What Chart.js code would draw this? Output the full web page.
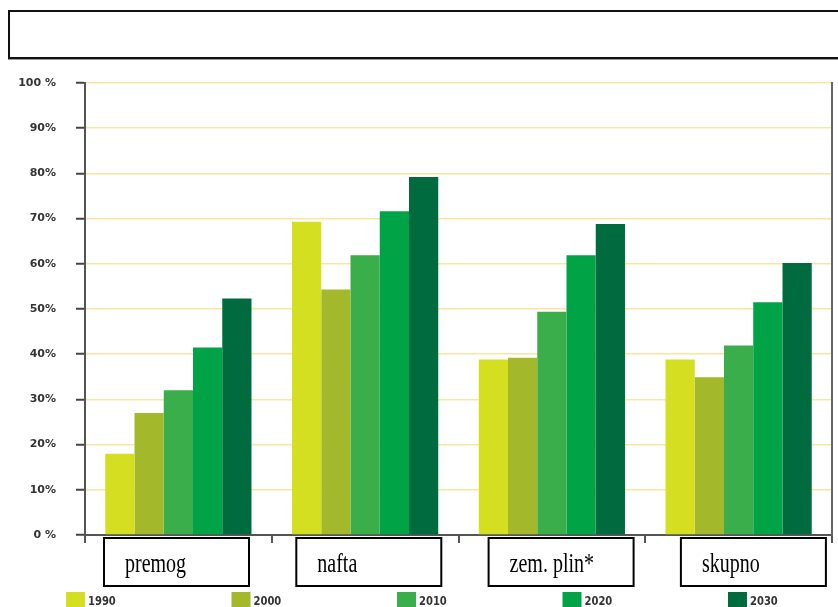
<!DOCTYPE html>
<html>
<head>
<meta charset="utf-8">
<script src="https://cdn.jsdelivr.net/npm/chart.js@4"></script>
<style>
  body { margin: 0; background: #fff; }
  #wrap { position: relative; width: 838px; height: 607px; overflow: hidden; }
  #topBox {
    position: absolute; left: 8px; top: 10px; width: 840px; height: 45px;
    border: 2px solid #111; box-shadow: 0 1px 0 #999;
  }
</style>
</head>
<body>
<div id="wrap">
  <canvas id="chart" width="838" height="607"></canvas>
  <div id="topBox"></div>
</div>
<script>
// Data
const categories = ['premog', 'nafta', 'zem. plin*', 'skupno'];
const years = ['1990', '2000', '2010', '2020', '2030'];
const v1990 = [18, 69.3, 38.8, 38.8];
const v2000 = [27, 54.3, 39.2, 34.9];
const v2010 = [32, 61.9, 49.4, 41.9];
const v2020 = [41.5, 71.6, 61.9, 51.5];
const v2030 = [52.3, 79.2, 68.8, 60.2];
const yTickLabels = ['0 %', '10%', '20%', '30%', '40%', '50%', '60%', '70%', '80%', '90%', '100 %'];

const colors = ['#d5df22', '#a3b92b', '#3aae4a', '#00a346', '#006b3f'];
const series = [v1990, v2000, v2010, v2020, v2030];

// boxes with category names + legend under the axis
const labelBoxes = {
    id: 'labelBoxes',
    afterDraw(chart) {
        const ctx = chart.ctx;
        const area = chart.chartArea;
        ctx.save();
        categories.forEach((name, i) => {
            const left = area.left + 19 + i * 192.3;
            ctx.fillStyle = '#fff';
            ctx.fillRect(left, 538, 145, 48);
            ctx.strokeStyle = '#000';
            ctx.lineWidth = 2;
            ctx.strokeRect(left, 538, 145, 48);
            ctx.save();
            ctx.translate(left + 21, 572);
            ctx.scale(1, 1.4);
            ctx.fillStyle = '#000';
            ctx.font = '20px "Liberation Serif"';
            ctx.textBaseline = 'alphabetic';
            ctx.fillText(name, 0, 0);
            ctx.restore();
        });
        // legend
        chart.data.datasets.forEach((ds, i) => {
            const x = 66 + i * 165.5;
            ctx.fillStyle = ds.backgroundColor;
            ctx.fillRect(x, 592, 19, 15);
            ctx.save();
            ctx.translate(x + 22, 605);
            ctx.scale(1, 1.3);
            ctx.fillStyle = '#333';
            ctx.font = 'bold 10px "DejaVu Sans"';
            ctx.fillText(ds.label, 0, 0);
            ctx.restore();
        });
        ctx.restore();
    }
};

const ctx = document.getElementById('chart').getContext('2d');
new Chart(ctx, {
    type: 'bar',
    data: {
        labels: categories,
        datasets: years.map((y, i) => ({
            label: y,
            data: series[i],
            backgroundColor: colors[i],
            borderWidth: 0,
            categoryPercentage: 0.783,
            barPercentage: 1
        }))
    },
    options: {
        responsive: false,
        animation: false,
        layout: { padding: { top: 83, right: 6, left: 0, bottom: 0 } },
        plugins: { legend: { display: false }, tooltip: { enabled: false } },
        scales: {
            x: {
                grid: { display: true, drawOnChartArea: false, tickLength: 8, tickColor: '#555', lineWidth: 2 },
                border: { color: '#555', width: 2 },
                ticks: { display: false },
                afterFit: (s) => { s.height = 72; }
            },
            y: {
                min: 0,
                max: 100,
                ticks: {
                    stepSize: 10,
                    padding: 20,
                    color: '#333',
                    font: { family: 'DejaVu Sans', size: 11, weight: 'bold' },
                    callback: (v, i) => yTickLabels[i]
                },
                grid: { color: '#fde3a0', lineWidth: 1.5, tickColor: '#444', tickLength: 9, tickWidth: 2 },
                border: { color: '#555', width: 2 },
                afterFit: (s) => { s.width = 85; }
            },
            y2: {
                position: 'right',
                min: 0,
                max: 100,
                ticks: { display: false },
                grid: { display: false },
                border: { color: '#666', width: 2 },
                afterFit: (s) => { s.width = 0; }
            }
        }
    },
    plugins: [labelBoxes]
});
</script>
</body>
</html>
